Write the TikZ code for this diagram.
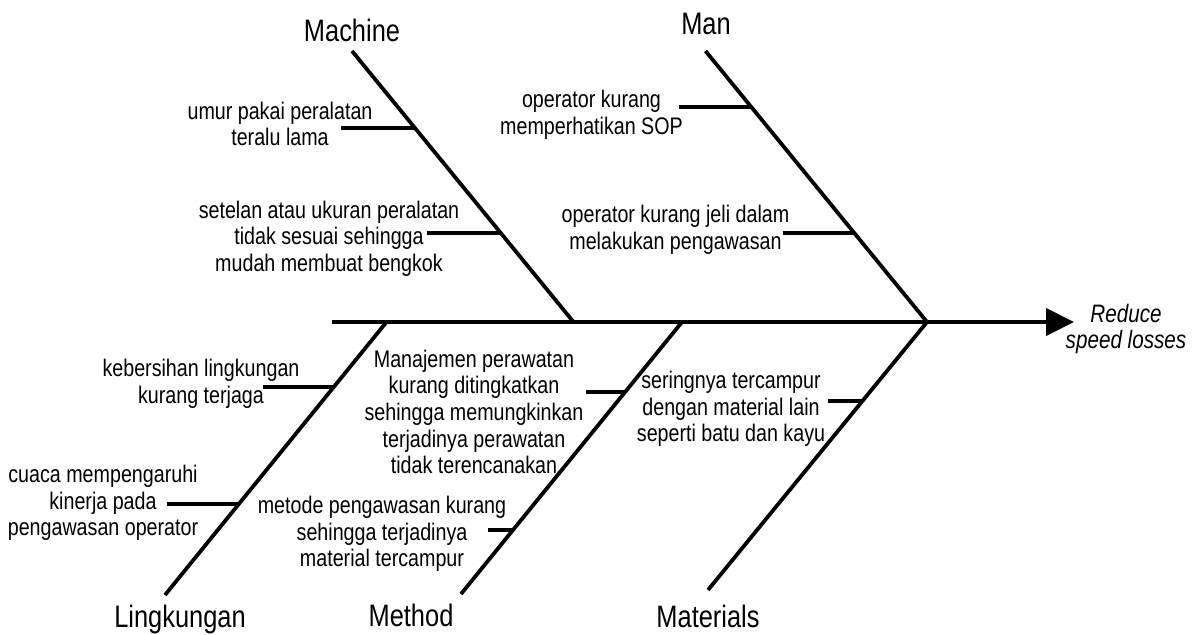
\documentclass[tikz,border=0pt]{standalone}
\usepackage{fontspec}
\setmainfont{Liberation Sans}[FakeStretch=0.82]
\usetikzlibrary{arrows.meta}
\usetikzlibrary{positioning}
\tikzset {
  spine/.style = {
    draw = black,
    line width = 2.2pt,
    -{Triangle[length=14pt, width=13.5pt]}
  },
  bone/.style = {
    draw = black,
    line width = 1.9pt
  },
  % short line from a bone to its cause
  twig/.style = {
    draw = black,
    line width = 1.6pt
  }
}
\tikzset {
  category/.style = {
    anchor = base,
    inner sep = 0,
    font = \fontsize{15.5}{18}\selectfont
  },
  cause/.style = {
    align = center,
    inner sep = 0,
    font = \fontsize{12}{13.3}\selectfont
  },
  effect/.style = {
    align = center,
    inner sep = 0,
    font = \fontsize{12.6}{13}\selectfont\itshape
  }
}

\begin{document}
\begin{tikzpicture}[x=0.5pt, y=-0.5pt]
    \useasboundingbox (0,0) rectangle (1198,635);

    \coordinate (tail) at (332,322);
    \coordinate (head) at (1074,322);
    \node[effect] (effect) at (1126,328.5) {Reduce\\speed losses};

    % upper bones
    \coordinate (machine-top) at (352,51);
    \coordinate (machine-foot) at (573.5,322);
    \node[category] (machine) at (352,42) {Machine};
    \coordinate (man-top) at (705.5,51);
    \coordinate (man-foot) at (927,322);
    \node[category] (man) at (706,35) {Man};

    % lower bones
    \coordinate (env-foot) at (386.5,322);
    \coordinate (env-end) at (165,595);
    \node[category] (env) at (180,627) {Lingkungan};
    \coordinate (method-foot) at (682,322);
    \coordinate (method-end) at (461,594);
    \node[category] (method) at (411,626) {Method};
    \coordinate (mat-foot) at (927,322);
    \coordinate (mat-end) at (708,590);
    \node[category] (mat) at (708,627) {Materials};

    % causes
    \node[cause] (machine-c1) at (280,124) {umur pakai peralatan\\teralu lama};
    \coordinate (machine-e1) at (341,128);
    \coordinate (machine-b1) at (415,128);
    \node[cause] (machine-c2) at (329,238.5) {setelan atau ukuran peralatan\\tidak sesuai sehingga\\mudah membuat bengkok};
    \coordinate (machine-e2) at (427,233);
    \coordinate (machine-b2) at (500.7,233);

    \node[cause] (man-c1) at (591.5,115) {operator kurang\\memperhatikan SOP};
    \coordinate (man-e1) at (679,107);
    \coordinate (man-b1) at (751.3,107);
    \node[cause] (man-c2) at (675.5,230) {operator kurang jeli dalam\\melakukan pengawasan};
    \coordinate (man-e2) at (783,233);
    \coordinate (man-b2) at (854.2,233);

    \node[cause] (env-c1) at (201,384) {kebersihan lingkungan\\kurang terjaga};
    \coordinate (env-e1) at (262.5,387);
    \coordinate (env-b1) at (333.8,387);
    \node[cause] (env-c2) at (103,503) {cuaca mempengaruhi\\kinerja pada\\pengawasan operator};
    \coordinate (env-e2) at (166.5,504);
    \coordinate (env-b2) at (238.9,504);

    \node[cause] (method-c1) at (474,412) {Manajemen perawatan\\kurang ditingkatkan\\sehingga memungkinkan\\terjadinya perawatan\\tidak terencanakan};
    \coordinate (method-e1) at (585.5,392);
    \coordinate (method-b1) at (625.1,392);
    \node[cause] (method-c2) at (382,534) {metode pengawasan kurang\\sehingga terjadinya\\material tercampur};
    \coordinate (method-e2) at (488,530);
    \coordinate (method-b2) at (513,530);

    \node[cause] (mat-c1) at (731,409) {seringnya tercampur\\dengan material lain\\seperti batu dan kayu};
    \coordinate (mat-e1) at (828,401);
    \coordinate (mat-b1) at (862.5,401);

    \draw[spine] (tail) -- (head);

    \draw[bone] (machine-top) -- (machine-foot);
    \draw[bone] (man-top) -- (man-foot);
    \draw[bone] (env-end) -- (env-foot);
    \draw[bone] (method-end) -- (method-foot);
    \draw[bone] (mat-end) -- (mat-foot);

    \draw[twig] (machine-e1) -- (machine-b1);
    \draw[twig] (machine-e2) -- (machine-b2);
    \draw[twig] (man-e1) -- (man-b1);
    \draw[twig] (man-e2) -- (man-b2);
    \draw[twig] (env-e1) -- (env-b1);
    \draw[twig] (env-e2) -- (env-b2);
    \draw[twig] (method-e1) -- (method-b1);
    \draw[twig] (method-e2) -- (method-b2);
    \draw[twig] (mat-e1) -- (mat-b1);
  \end{tikzpicture}
\end{document}
